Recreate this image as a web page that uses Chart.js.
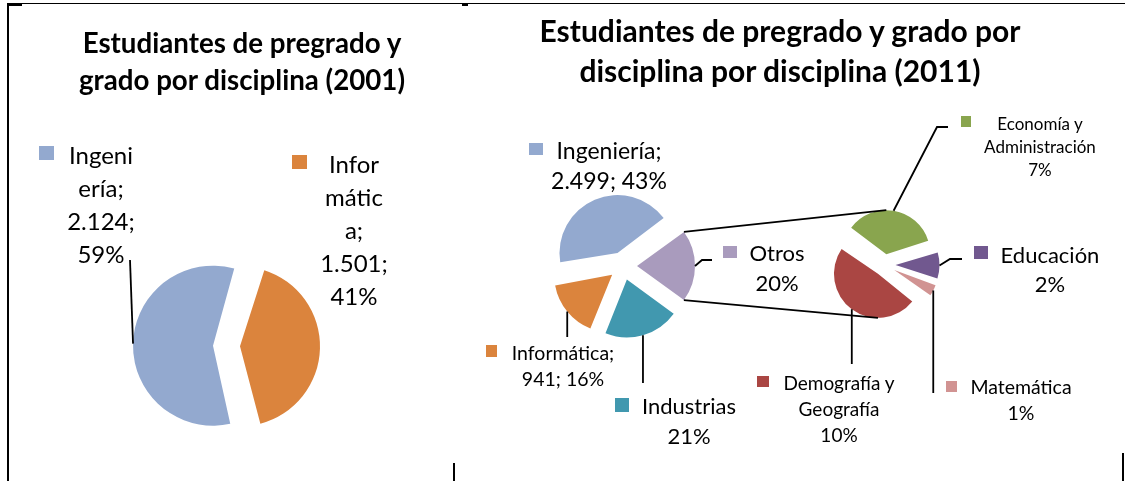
<!DOCTYPE html>
<html>
<head>
<meta charset="utf-8">
<script src="https://cdn.jsdelivr.net/npm/chart.js@4.4.0/dist/chart.umd.min.js"></script>
<style>
  body { margin: 0; background: #fff; }
  #page { position: relative; width: 1125px; height: 481px; overflow: hidden; font-family: Lato, 'Open Sans', sans-serif; color: #000; }
  #page canvas { position: absolute; left: 0; top: 0; }
  .lbl { position: absolute; width: 300px; text-align: center; white-space: nowrap; }
  .ttl { position: absolute; width: 600px; text-align: center; white-space: nowrap; font-weight: bold; }
  .key, .rule { position: absolute; }
  .rule { background: #000; }
</style>
</head>
<body>
<div id="page">
  <canvas id="pie2001" width="1125" height="481"></canvas>
  <canvas id="pie2011" width="1125" height="481"></canvas>
  <canvas id="pieOtros" width="1125" height="481"></canvas>
</div>
<script>
const W = 1125, H = 481;

// 2001
const cats2001 = ['Ingeniería', 'Informática'];
const vals2001 = [2124, 1501];
const cols2001 = ['#93A9CF', '#DB843D'];

// 2011, main pie, clockwise starting at "Otros"
const cats2011 = ['Otros', 'Industrias', 'Informática', 'Ingeniería'];
const vals2011 = [1168, 1226, 941, 2499];
const cols2011 = ['#A99BBD', '#4198AF', '#DB843D', '#93A9CF'];

// 2011, breakdown of "Otros"
const catsOtros = ['Economía y Administración', 'Educación', 'Matemática', 'Demografía y Geografía'];
const valsOtros = [409, 117, 58, 584];
const colsOtros = ['#89A54E', '#71588F', '#D19392', '#AA4643'];

const total2001 = vals2001.reduce((a, b) => a + b, 0);
const total2011 = vals2011.reduce((a, b) => a + b, 0);

const num = v => String(v).replace(/\B(?=(\d{3})+(?!\d))/g, '.');
const pct = (v, t) => Math.round(v / t * 100) + '%';
const labelText = (name, v, t, full) => full ? name + '; ' + num(v) + '; ' + pct(v, t) : name + ' ' + pct(v, t);

// cut a label into lines of n characters (like the wrapped boxes in the picture)
function chop(s, lens) {
  const out = [];
  let p = 0;
  for (const n of lens) {
    while (s[p] === ' ') p++;
    out.push(s.slice(p, p + n));
    p += n;
  }
  return out;
}

// label boxes: x = centre, y = centre of first line, key = legend square
const lab2001 = [
  {i: 0, x: 101, y: 154, size: 24, lh: 33, wrap: [6, 5, 6, 3], full: true, key: [39, 146, 15, 14], from: [[130, 260]]},
  {i: 1, x: 354, y: 163, size: 24, lh: 33, wrap: [5, 5, 2, 6, 3], full: true, key: [292, 155, 15, 14]}
];
const lab2011 = [
  {i: 3, x: 609, y: 150, size: 23, lh: 30, wrap: [11, 10], full: true, key: [529, 143, 14, 12]},
  {i: 0, x: 777, y: 253, size: 22, lh: 30, wrap: [5, 3], key: [723, 246, 14, 12], from: [[712, 260], [702, 260]]},
  {i: 1, x: 689, y: 406, size: 22, lh: 30, wrap: [10, 3], key: [615, 398, 14, 14], drop: 383},
  {i: 2, x: 563, y: 353, size: 19.5, lh: 26, wrap: [12, 8], full: true, key: [486, 345, 11, 12], drop: 337}
];
const labOtros = [
  {i: 0, x: 1040, y: 123, size: 17, lh: 23, wrap: [10, 14, 2], key: [961, 116, 10, 11], from: [[948, 127], [937, 127]]},
  {i: 1, x: 1050, y: 254, size: 22, lh: 29, wrap: [9, 2], key: [974, 246, 14, 13], from: [[962, 259], [950, 259]]},
  {i: 2, x: 1021, y: 387, size: 19.5, lh: 26, wrap: [10, 2], key: [946, 381, 11, 11], drop: 393},
  {i: 3, x: 839, y: 383, size: 19, lh: 26, wrap: [12, 9, 3], key: [757, 376, 12, 11], drop: 364}
];

// apex of an exploded slice and points on its rim
function apex(a) {
  const mid = (a.startAngle + a.endAngle) / 2;
  const d = a.options.offset / 4;
  return {x: a.x + Math.cos(mid) * d, y: a.y + Math.sin(mid) * d, mid: mid};
}
function rim(a, R, ang) {
  const p = apex(a);
  if (ang === undefined) ang = p.mid;
  return [p.x + Math.cos(ang) * R, p.y + Math.sin(ang) * R];
}

const explode = {
  id: 'explode',
  beforeDatasetsDraw(chart, args, opts) {
    // keep every exploded slice at the same radius
    chart.getDatasetMeta(0).data.forEach(a => {
      const fix = 1 - Math.sin(Math.min(Math.PI, a.circumference));
      a.outerRadius = opts.r - a.options.offset / 4 * fix;
    });
  },
  afterDraw(chart, args, opts) {
    const ctx = chart.ctx;
    const arcs = chart.getDatasetMeta(0).data;
    ctx.save();
    ctx.strokeStyle = '#000';
    ctx.lineWidth = 1.8;
    (opts.labels || []).forEach(lb => {
      const end = rim(arcs[lb.i], opts.r);
      const pts = lb.from ? lb.from.slice() : lb.drop ? [[end[0], lb.drop]] : null;
      if (!pts) return;
      pts.push(end);
      ctx.beginPath();
      ctx.moveTo(pts[0][0], pts[0][1]);
      pts.slice(1).forEach(p => ctx.lineTo(p[0], p[1]));
      ctx.stroke();
    });
    if (opts.link) {
      // lines from the "Otros" slice to the top and bottom of the second pie
      const src = opts.link.chart.getDatasetMeta(0).data[opts.link.i];
      const rs = opts.link.r;
      const find = ang => arcs.find(a => {
        const t = ((ang - a.startAngle) % (2 * Math.PI) + 2 * Math.PI) % (2 * Math.PI);
        return t <= a.endAngle - a.startAngle;
      });
      const top = rim(find(-Math.PI / 2), opts.r, -Math.PI / 2);
      const bot = rim(find(Math.PI / 2), opts.r, Math.PI / 2);
      const p1 = rim(src, rs, src.startAngle);
      const p2 = rim(src, rs, src.endAngle);
      ctx.beginPath();
      ctx.moveTo(p1[0], p1[1]); ctx.lineTo(top[0], top[1]);
      ctx.moveTo(p2[0], p2[1]); ctx.lineTo(bot[0], bot[1]);
      ctx.stroke();
    }
    ctx.restore();
  }
};

function makePie(id, cats, vals, cols, cx, cy, r, gap, rot, labels, link) {
  return new Chart(document.getElementById(id), {
    type: 'pie',
    data: {
      labels: cats,
      datasets: [{data: vals, backgroundColor: cols, borderWidth: 0, offset: gap * 4, radius: r}]
    },
    options: {
      responsive: false,
      devicePixelRatio: 1,
      animation: false,
      events: [],
      rotation: rot,
      layout: {padding: {left: cx - 100, right: W - cx - 100, top: cy - 100, bottom: H - cy - 100}},
      plugins: {
        legend: {display: false},
        tooltip: {enabled: false},
        explode: {r: r, labels: labels, link: link}
      }
    },
    plugins: [explode]
  });
}

const chart2001 = makePie('pie2001', cats2001, vals2001, cols2001, 226.5, 346, 80, 13.5, 166, lab2001);
const chart2011 = makePie('pie2011', cats2011, vals2011, cols2011, 623, 266, 58, 14, 54, lab2011);
const chartOtros = makePie('pieOtros', catsOtros, valsOtros, colsOtros, 884.5, 265, 44, 11, 306.5, labOtros,
  {chart: chart2011, i: 0, r: 58});

// text
const page = document.getElementById('page');
function put(cls, css, html) {
  const d = document.createElement('div');
  d.className = cls;
  d.style.cssText = css;
  d.innerHTML = html;
  page.appendChild(d);
}
function addLabels(list, cats, vals, cols, tot) {
  list.forEach(lb => {
    const lines = chop(labelText(cats[lb.i], vals[lb.i], tot, lb.full), lb.wrap);
    put('lbl', `left:${lb.x - 150}px;top:${lb.y - lb.lh / 2}px;font-size:${lb.size}px;line-height:${lb.lh}px`, lines.join('<br>'));
    put('key', `left:${lb.key[0]}px;top:${lb.key[1]}px;width:${lb.key[2]}px;height:${lb.key[3]}px;background:${cols[lb.i]}`, '');
  });
}
addLabels(lab2001, cats2001, vals2001, cols2001, total2001);
addLabels(lab2011, cats2011, vals2011, cols2011, total2011);
addLabels(labOtros, catsOtros, valsOtros, colsOtros, total2011);

put('ttl', 'left:-58px;top:24px;font-size:27.7px;line-height:37px', 'Estudiantes de pregrado y<br>grado por disciplina (2001)');
put('ttl', 'left:480px;top:10px;font-size:30px;line-height:40px', 'Estudiantes de pregrado y grado por<br>disciplina por disciplina (2011)');

// frame bits
put('rule', 'left:7px;top:3px;width:1118px;height:1px', '');
put('rule', 'left:7px;top:3px;width:15px;height:3px', '');
put('rule', 'left:7px;top:3px;width:2px;height:478px', '');
put('rule', 'left:462px;top:3px;width:6px;height:3px', '');
put('rule', 'left:453px;top:463px;width:2px;height:18px', '');
put('rule', 'left:1122px;top:453px;width:2px;height:28px', '');
</script>
</body>
</html>
